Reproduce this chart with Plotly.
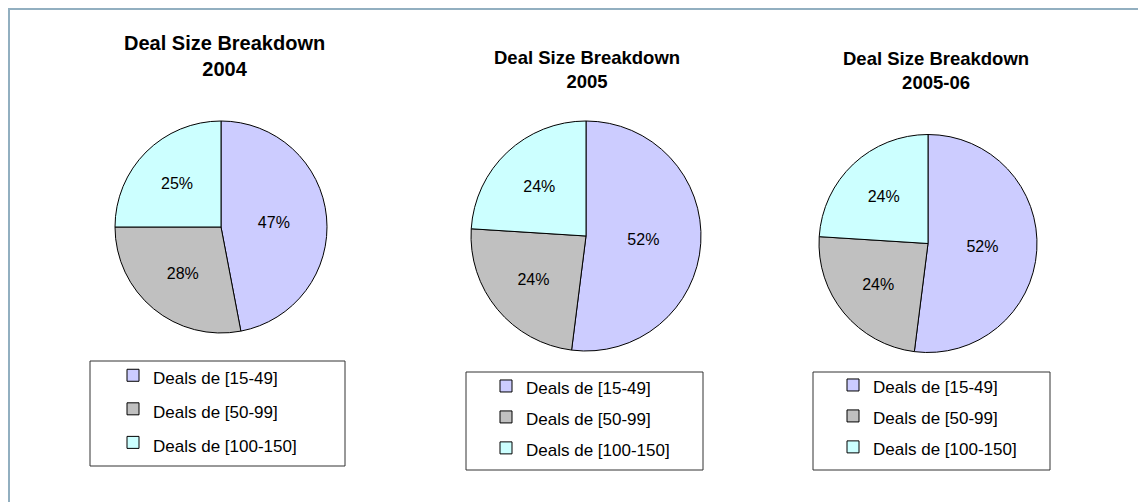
import plotly.graph_objects as go

# data
categories = ["Deals de [15-49]", "Deals de [50-99]", "Deals de [100-150]"]
share_2004 = [47, 28, 25]
share_2005 = [52, 24, 24]
share_2005_06 = [52, 24, 24]
periods = ["2004", "2005", "2005-06"]

colors = ["#CCCCFF", "#C0C0C0", "#CCFFFF"]
# the page body adds an 8px margin, so the figure is 8px smaller than the window
OFF = 8
W, H = 1146 - OFF, 502 - OFF
FONT = "Arial, Liberation Sans, sans-serif"


def px_x(v):
    return (v - OFF) / W


def px_y(v):
    return 1 - (v - OFF) / H


# (values, centre x, centre y, radius, legend id)
pies = [
    (share_2004, 221, 227, 106, "legend"),
    (share_2005, 586, 236, 115, "legend2"),
    (share_2005_06, 928, 243.5, 109, "legend3"),
]

fig = go.Figure()
for i, (values, cx, cy, r, leg) in enumerate(pies):
    # big legend font gives the row spacing, the span holds the real text size;
    # the style differs slightly per pie so every legend gets its own entries
    labels = [f"<span style='font-size:17px;{' ' * i}'>{c}</span>" for c in categories]
    fig.add_trace(go.Pie(
        labels=labels,
        values=values,
        sort=False,
        direction="clockwise",
        rotation=0,
        marker=dict(colors=colors, line=dict(color="#000000", width=1)),
        texttemplate="%{percent:.0%}",
        textposition="inside",
        insidetextorientation="horizontal",
        textfont=dict(family=FONT, size=16, color="#000000"),
        domain=dict(x=[px_x(cx - r), px_x(cx + r)], y=[px_y(cy + r), px_y(cy - r)]),
        legend=leg,
        hoverinfo="label+percent",
    ))

# titles
title_pos = [(224, 56.5, 20), (587, 69.5, 18.5), (935.5, 70.5, 18.5)]
for period, (tx, ty, fs) in zip(periods, title_pos):
    fig.add_annotation(
        x=px_x(tx), y=px_y(ty), xref="paper", yref="paper",
        text=f"<b>Deal Size Breakdown<br>{period}</b>",
        showarrow=False, xanchor="center", yanchor="middle",
        font=dict(family=FONT, size=fs, color="#000000"),
    )

# legend boxes and outer frame
boxes = [(90, 361, 345, 466), (466, 372, 703, 470), (813, 372, 1050, 470)]
for x0, y0, x1, y1 in boxes:
    fig.add_shape(type="rect", xref="paper", yref="paper",
                  x0=px_x(x0), x1=px_x(x1), y0=px_y(y1), y1=px_y(y0),
                  line=dict(color="#333333", width=1), fillcolor="rgba(0,0,0,0)")
fig.add_shape(type="rect", xref="paper", yref="paper",
              x0=px_x(9), x1=px_x(1160), y0=px_y(520), y1=px_y(9),
              line=dict(color="#92AFC0", width=2), fillcolor="rgba(0,0,0,0)")


def legend_cfg(x, y, size):
    return dict(x=px_x(x), y=px_y(y), xanchor="left", yanchor="top",
                orientation="v", bgcolor="rgba(0,0,0,0)", borderwidth=0,
                font=dict(family=FONT, size=size, color="#000000"))


fig.update_layout(
    width=W, height=H,
    margin=dict(t=0, b=0, l=0, r=0),
    paper_bgcolor="white",
    plot_bgcolor="white",
    showlegend=True,
    legend=legend_cfg(113, 353.5, 23.5),
    legend2=legend_cfg(486, 365.5, 21.5),
    legend3=legend_cfg(833, 364.5, 21.5),
)

fig.write_html("out.html")
